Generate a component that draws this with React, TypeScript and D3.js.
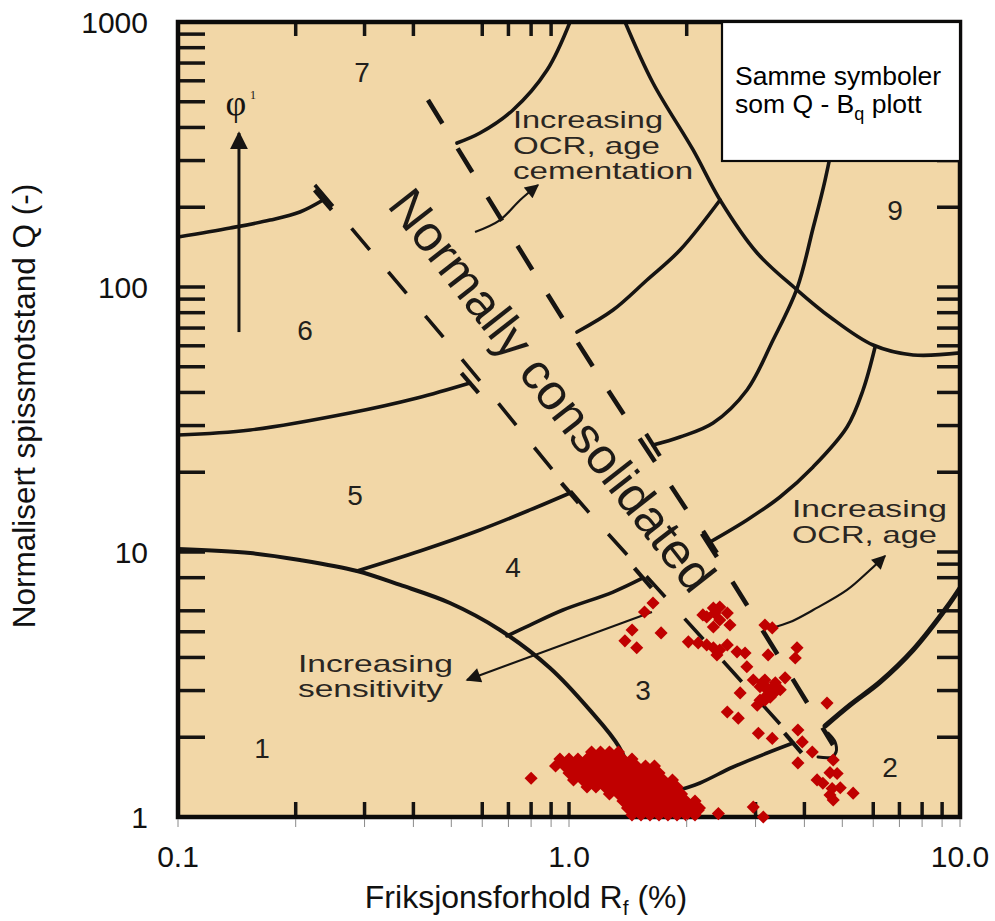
import React from "react";
import * as d3 from "d3";

type Pt = [number, number]; // [Rf (%), Q (-)]

// ---- axes -------------------------------------------------------------
const xTickValues = [0.1, 1, 10];
const xTickLabels = ["0.1", "1.0", "10.0"];
const yTickValues = [1, 10, 100, 1000];
const yTickLabels = ["1", "10", "100", "1000"];
const xOuterTicks = [0.1, 0.2, 0.3, 0.4, 0.5, 0.6, 0.7, 0.8, 0.9, 1, 2, 3, 4, 5, 6, 7, 8, 9, 10];

// tick marks drawn inside the chart frame
const bottomFrameTicks = [0.2, 0.3, 0.4, 0.6, 0.7, 0.8, 0.9, 1, 3, 4, 6, 7, 8, 9];
const topFrameTicks = [0.2, 0.3, 0.4, 0.6, 0.7, 0.8, 0.9, 2, 3, 4, 5, 6, 7, 8, 9];
const leftFrameTicks = [2, 3, 4, 5, 6, 8, 10, 20, 30, 40, 50, 60, 70, 80, 90, 100, 200, 300, 400, 500, 600, 700, 800, 900];
const rightFrameTicks = [2, 3, 4, 5, 6, 8, 9, 10, 20, 30, 40, 50, 60, 70, 80, 90, 100, 200, 300, 400, 500, 600, 700, 800, 900];

// ---- soil behaviour zone boundaries -----------------------------------
const zone1Boundary: Pt[] = [[0.1, 10.26], [0.153, 9.91], [0.205, 9.33], [0.287, 8.48], [0.37, 7.51], [0.496, 6.42], [0.666, 5.08], [0.894, 3.65], [1.131, 2.53], [1.342, 1.84], [1.475, 1.32]];
const b45Left: Pt[] = [[0.287, 8.48], [0.416, 10.09], [0.592, 12.11], [0.795, 14.41], [1.006, 16.7]];
const b45Right: Pt[] = [[1.64, 25.34], [1.923, 27.16], [2.336, 30.68], [2.853, 40.87], [3.326, 63.1], [3.833, 99.1], [4.21, 167.0], [4.518, 253.3], [4.792, 391.3], [5.082, 718.9]];
const b56Left: Pt[] = [[0.1, 27.64], [0.153, 28.86], [0.275, 33.45], [0.409, 38.12], [0.558, 43.42]];
const b56Right: Pt[] = [[1.048, 67.63], [1.296, 81.88], [1.583, 106.3], [1.923, 137.9], [2.434, 213.0]];
const b67Left: Pt[] = [[0.1, 154.4], [0.136, 167.0], [0.172, 178.9], [0.205, 191.9], [0.235, 213.0]];
const b67Right: Pt[] = [[0.517, 349.4], [0.592, 381.1], [0.719, 465.5], [0.879, 658.9], [1.006, 1000]];
const zone9Arc: Pt[] = [[1.391, 1000], [1.64, 588.6], [2.077, 328.9], [2.434, 213.0], [3.028, 134.4], [3.833, 97.4], [4.652, 77.05], [5.993, 60.4], [7.585, 55.4], [10, 56.4]];
const b34Right: Pt[] = [[6.065, 59.37], [5.65, 40.87], [5.142, 29.63], [4.21, 20.94], [3.465, 16.13], [2.853, 13.21], [2.295, 10.91]];
const b34Left: Pt[] = [[0.694, 4.82], [0.795, 5.3], [0.965, 6.04], [1.296, 7.06], [1.546, 7.98]];
const b23Left: Pt[] = [[1.659, 1.159], [1.923, 1.264], [2.163, 1.344], [2.628, 1.544], [3.211, 1.744], [3.742, 1.902]];
const zone2Boundary: Pt[] = [[4.518, 2.205], [5.234, 2.646], [6.245, 3.232], [7.585, 4.268], [9.264, 6.2], [10, 7.31]];
const ncBracket: Pt[] = [[4.596, 2.075], [4.792, 1.919], [4.82, 1.759], [4.707, 1.684], [4.334, 1.684]];

// normally consolidated band
const ncLeft: Pt[] = [[0.2239, 242.6], [0.5921, 44.19], [1.018, 16.7], [1.592, 7.98], [3.833, 1.902]];
const ncRight: Pt[] = [[0.4359, 507.7], [1.111, 54.4], [2.336, 10.09], [4.736, 1.869]];

// trend arrows
const sensitivityArrow: Pt[] = [[1.63, 5.94], [0.5484, 3.29]];
const ocrAgeArrow: Pt[] = [[3.307, 5.17], [3.676, 5.44], [4.21, 6.04], [5.142, 7.19], [5.886, 8.55], [6.43, 9.66]];
const ocrCementArrow: Pt[] = [[0.575, 161.3], [0.666, 178.9], [0.75, 213.0], [0.833, 242.6]];
const phiArrow: Pt[] = [[0.1432, 67.6], [0.1432, 381.1]];

// zone numbers
const zoneLabels = ["1", "2", "3", "4", "5", "6", "7", "9"];
const zoneLabelRf = [0.164, 6.62, 1.546, 0.719, 0.2836, 0.2113, 0.2956, 6.82];
const zoneLabelQ = [1.82, 1.544, 3.02, 8.78, 16.41, 68.8, 647.6, 195.3];

// ---- CPT data -----------------------------------------------------------
const scatteredPoints: Pt[] = [
  [1.64, 6.42], [1.56, 5.94], [1.45, 5.08], [1.39, 4.62], [1.49, 4.35], [1.72, 4.95], [0.8, 1.4],
  [2.2, 5.79], [2.25, 5.69], [2.34, 6.15], [2.43, 6.2], [2.54, 5.88], [2.58, 5.3], [2.34, 5.21], [2.43, 5.54], [2.36, 5.88],
  [2.02, 4.58], [2.14, 4.54], [2.25, 4.46], [2.34, 4.35], [2.43, 4.27], [2.54, 4.46], [2.39, 4.09], [2.69, 4.2], [2.82, 4.16], [2.85, 3.69],
  [3.17, 5.3], [3.31, 5.17], [3.23, 4.09], [3.83, 4.35], [3.79, 3.98],
  [2.96, 3.29], [3.08, 3.1], [3.21, 3.02], [3.27, 2.83], [3.57, 3.35], [3.33, 3.1], [3.17, 2.83], [3.12, 3.21], [3.21, 3.07], [3.37, 2.97],
  [3.08, 2.76], [2.74, 2.94], [3.17, 3.29], [3.37, 3.21], [3.03, 2.64], [3.17, 2.76], [3.47, 3.02],
  [2.54, 2.49], [2.71, 2.36], [3.05, 2.07], [3.31, 1.98], [4.57, 2.69], [3.85, 2.13], [3.95, 1.92], [4.19, 1.76], [3.85, 1.6],
  [4.74, 1.64], [4.65, 1.47], [4.85, 1.46], [4.31, 1.38], [4.46, 1.34], [4.71, 1.28], [4.94, 1.29], [4.65, 1.21], [4.74, 1.16], [5.33, 1.23],
  [2.96, 1.09], [3.14, 1.0], [2.41, 1.03], [2.14, 1.06],
];

const denseCluster: Pt[] = [
  [1.142, 1.759], [1.204, 1.759], [1.269, 1.759], [1.338, 1.759],
  [0.948, 1.656], [1.0, 1.656], [1.054, 1.656], [1.112, 1.656], [1.172, 1.656], [1.236, 1.656], [1.303, 1.656], [1.374, 1.656], [1.449, 1.656],
  [0.924, 1.558], [0.974, 1.558], [1.027, 1.558], [1.083, 1.558], [1.142, 1.558], [1.204, 1.558], [1.269, 1.558], [1.338, 1.558], [1.411, 1.558], [1.488, 1.558], [1.569, 1.558], [1.654, 1.558],
  [1.0, 1.466], [1.054, 1.466], [1.112, 1.466], [1.172, 1.466], [1.236, 1.466], [1.303, 1.466], [1.374, 1.466], [1.449, 1.466], [1.528, 1.466], [1.611, 1.466], [1.699, 1.466],
  [1.027, 1.379], [1.083, 1.379], [1.142, 1.379], [1.204, 1.379], [1.269, 1.379], [1.338, 1.379], [1.411, 1.379], [1.488, 1.379], [1.569, 1.379], [1.654, 1.379], [1.744, 1.379], [1.839, 1.379],
  [1.112, 1.298], [1.172, 1.298], [1.236, 1.298], [1.303, 1.298], [1.374, 1.298], [1.449, 1.298], [1.528, 1.298], [1.611, 1.298], [1.699, 1.298], [1.791, 1.298], [1.889, 1.298],
  [1.269, 1.221], [1.338, 1.221], [1.411, 1.221], [1.488, 1.221], [1.569, 1.221], [1.654, 1.221], [1.744, 1.221], [1.839, 1.221], [1.94, 1.221],
  [1.374, 1.149], [1.449, 1.149], [1.528, 1.149], [1.611, 1.149], [1.699, 1.149], [1.791, 1.149], [1.889, 1.149], [1.992, 1.149], [2.1, 1.149],
  [1.411, 1.081], [1.488, 1.081], [1.569, 1.081], [1.654, 1.081], [1.744, 1.081], [1.839, 1.081], [1.94, 1.081], [2.045, 1.081], [2.156, 1.081],
  [1.449, 1.018], [1.528, 1.018], [1.611, 1.018], [1.699, 1.018], [1.791, 1.018], [1.889, 1.018], [1.992, 1.018], [2.1, 1.018],
];

const INK = "#161412";
const PAPER = "#F2D7A7";
const MARK = "#C00000";
const SANS = "'Liberation Sans', Arial, Helvetica, sans-serif";
const SERIF = "'Liberation Serif', 'DejaVu Serif', serif";

export default function App() {
  const x = d3.scaleLog().domain([0.1, 10]).range([178, 960]);
  const y = d3.scaleLog().domain([1, 1000]).range([817, 22]);
  const [x0, x1] = x.range();
  const [yb, yt] = y.range();

  const smooth = d3.line<Pt>().x((d) => x(d[0])).y((d) => y(d[1])).curve(d3.curveCatmullRom.alpha(0.5));
  const straight = d3.line<Pt>().x((d) => x(d[0])).y((d) => y(d[1]));
  const diamond = d3.symbol().type(d3.symbolSquare).size(86)() as string;

  const angleOf = (pts: Pt[]) => {
    const a = pts[0];
    const b = pts[pts.length - 1];
    return Math.atan2(y(b[1]) - y(a[1]), x(b[0]) - x(a[0]));
  };
  const leftAngle = angleOf(ncLeft);
  const rightAngle = angleOf(ncRight);

  const bar = (p: Pt, ang: number, len = 26) => {
    const cx = x(p[0]);
    const cy = y(p[1]);
    const dx = (Math.cos(ang) * len) / 2;
    const dy = (Math.sin(ang) * len) / 2;
    return { x1: cx - dx, y1: cy - dy, x2: cx + dx, y2: cy + dy };
  };

  const bars = [
    bar(b67Left[b67Left.length - 1], leftAngle),
    bar(b56Left[b56Left.length - 1], leftAngle),
    bar(b45Left[b45Left.length - 1], leftAngle),
    bar(b34Left[b34Left.length - 1], leftAngle),
    bar(b23Left[b23Left.length - 1], leftAngle),
    bar(b45Right[0], rightAngle),
    bar(b34Right[b34Right.length - 1], rightAngle),
  ];

  const boundaries: { pts: Pt[]; w: number }[] = [
    { pts: zone1Boundary, w: 4 },
    { pts: b45Left, w: 3.6 },
    { pts: b45Right, w: 3.6 },
    { pts: b56Left, w: 3.6 },
    { pts: b56Right, w: 3.6 },
    { pts: b67Left, w: 3.6 },
    { pts: b67Right, w: 3.6 },
    { pts: zone9Arc, w: 3.6 },
    { pts: b34Right, w: 3.6 },
    { pts: b34Left, w: 3.6 },
    { pts: b23Left, w: 3.6 },
    { pts: zone2Boundary, w: 5 },
    { pts: ncBracket, w: 3 },
  ];

  const textBlock = (
    rf: number,
    q: number,
    lines: string[],
    lengths: number[],
    gap: number,
    key: string
  ) => (
    <text key={key} x={x(rf)} y={y(q)} fontFamily={SANS} fontSize={24} fill="#2a2622">
      {lines.map((s, i) => (
        <tspan key={i} x={x(rf)} dy={i === 0 ? 0 : gap} textLength={lengths[i]} lengthAdjust="spacingAndGlyphs">
          {s}
        </tspan>
      ))}
    </text>
  );

  const ncX = x(0.8366);
  const ncY = y(37.17);
  const phiX = x(0.1407);
  const phiY = y(453.5);

  return (
    <svg
      width={995}
      height={921}
      viewBox="0 0 995 921"
      style={{ position: "absolute", left: 0, top: 0, background: "#ffffff" }}
    >
      <defs>
        <marker id="head" viewBox="0 0 10 10" refX="9" refY="5" markerUnits="userSpaceOnUse" markerWidth="20" markerHeight="15" orient="auto">
          <path d="M0,0 L10,5 L0,10 z" fill={INK} />
        </marker>
        <marker id="headSmall" viewBox="0 0 10 10" refX="9" refY="5" markerUnits="userSpaceOnUse" markerWidth="17" markerHeight="14" orient="auto">
          <path d="M0,0 L10,5 L0,10 z" fill={INK} />
        </marker>
        <marker id="headWide" viewBox="0 0 10 10" refX="9" refY="5" markerUnits="userSpaceOnUse" markerWidth="18" markerHeight="23" orient="auto">
          <path d="M0,0 L10,5 L0,10 z" fill={INK} />
        </marker>
        <clipPath id="plotClip">
          <rect x={x0} y={yt} width={x1 - x0} height={yb - yt} />
        </clipPath>
      </defs>

      {/* chart paper */}
      <rect x={x0} y={yt} width={x1 - x0} height={yb - yt} fill={PAPER} />

      {/* frame ticks */}
      <g stroke={INK} strokeWidth={3.5}>
        {bottomFrameTicks.map((v) => (
          <line key={"b" + v} x1={x(v)} x2={x(v)} y1={yb} y2={yb - 15} />
        ))}
        {topFrameTicks.map((v) => (
          <line key={"t" + v} x1={x(v)} x2={x(v)} y1={yt} y2={yt + 14} />
        ))}
        {leftFrameTicks.map((v) => (
          <line key={"l" + v} x1={x0} x2={x0 + 27} y1={y(v)} y2={y(v)} />
        ))}
        {rightFrameTicks.map((v) => (
          <line key={"r" + v} x1={x1} x2={x1 - 23} y1={y(v)} y2={y(v)} />
        ))}
      </g>

      <g clipPath="url(#plotClip)">
        {/* zone boundaries */}
        <g fill="none" stroke={INK} strokeLinecap="round" strokeLinejoin="round">
          {boundaries.map((b, i) => (
            <path key={i} d={smooth(b.pts) as string} strokeWidth={b.w} />
          ))}
        </g>

        {/* normally consolidated band */}
        <g fill="none" stroke={INK}>
          <path d={smooth(ncLeft) as string} strokeWidth={3.6} strokeDasharray="28 29" />
          <path d={smooth(ncRight) as string} strokeWidth={4.6} strokeDasharray="28 29" />
          {bars.map((b, i) => (
            <line key={i} {...b} strokeWidth={4.2} />
          ))}
        </g>

        {/* trend arrows */}
        <g fill="none" stroke={INK} strokeWidth={2.2}>
          <path d={straight(sensitivityArrow) as string} markerEnd="url(#head)" />
          <path d={smooth(ocrAgeArrow) as string} markerEnd="url(#headSmall)" />
          <path d={smooth(ocrCementArrow) as string} markerEnd="url(#headSmall)" />
          <path d={straight(phiArrow) as string} strokeWidth={3} markerEnd="url(#headWide)" />
        </g>

        {/* zone numbers */}
        <g fontFamily={SANS} fontSize={28} fill="#221f1c" textAnchor="middle">
          {zoneLabels.map((s, i) => (
            <text key={s} x={x(zoneLabelRf[i])} y={y(zoneLabelQ[i])} dy="0.36em">
              {s}
            </text>
          ))}
        </g>

        {/* annotations */}
        {textBlock(0.7192, 398, ["Increasing", "OCR, age", "cementation"], [150, 147, 180], 25.5, "cem")}
        {textBlock(3.718, 13.56, ["Increasing", "OCR, age"], [155, 145], 26, "age")}
        {textBlock(0.2027, 3.525, ["Increasing", "sensitivity"], [155, 145], 25, "sens")}

        <text
          x={0}
          y={0}
          transform={`translate(${ncX},${ncY}) rotate(52)`}
          textAnchor="middle"
          fontFamily={SANS}
          fontSize={50}
          fill="#1d1a17"
          textLength={495}
          lengthAdjust="spacingAndGlyphs"
        >
          Normally consolidated
        </text>

        <text x={phiX} y={phiY + 2} textAnchor="middle" fontFamily={SERIF} fontSize={36} fill={INK}>
          φ
        </text>
        <text x={phiX + 14} y={phiY - 14} fontFamily={SERIF} fontSize={12} fill={INK}>
          1
        </text>
      </g>

      {/* frame */}
      <rect x={x0} y={yt} width={x1 - x0} height={yb - yt} fill="none" stroke="#0c0b0a" strokeWidth={4.5} />

      {/* legend note */}
      <rect x={722} y={yt} width={x1 - 722} height={139} fill="#ffffff" stroke="#0c0b0a" strokeWidth={2.2} />
      <text x={735} y={85} fontFamily={SANS} fontSize={26.5} fill="#000">
        Samme symboler
      </text>
      <text x={735} y={113} fontFamily={SANS} fontSize={26.5} fill="#000">
        som Q - B<tspan fontSize={18} dy={7}>q</tspan>
        <tspan dy={-7}> plott</tspan>
      </text>

      {/* CPT data */}
      <g fill={MARK}>
        {denseCluster.concat(scatteredPoints).map((d, i) => (
          <path key={i} d={diamond} transform={`translate(${x(d[0])},${y(d[1])}) rotate(45)`} />
        ))}
      </g>

      {/* outer x axis */}
      <g stroke="#8a8a8a" strokeWidth={1}>
        {xOuterTicks.map((v) => (
          <line key={v} x1={x(v)} x2={x(v)} y1={yb + 2} y2={yb + 10} />
        ))}
      </g>
      <g fontFamily={SANS} fontSize={30} fill="#111" textAnchor="middle">
        {xTickValues.map((v, i) => (
          <text key={v} x={x(v)} y={867}>
            {xTickLabels[i]}
          </text>
        ))}
      </g>
      <g fontFamily={SANS} fontSize={30} fill="#111" textAnchor="end">
        {yTickValues.map((v, i) => (
          <text key={v} x={148} y={y(v)} dy="0.35em">
            {yTickLabels[i]}
          </text>
        ))}
      </g>

      {/* axis titles */}
      <text x={526} y={908} textAnchor="middle" fontFamily={SANS} fontSize={32} fill="#111">
        Friksjonsforhold R<tspan fontSize={21} dy={7}>f</tspan>
        <tspan dy={-7}> (%)</tspan>
      </text>
      <text
        transform={`translate(35,406) rotate(-90)`}
        textAnchor="middle"
        fontFamily={SANS}
        fontSize={31.5}
        fill="#111"
      >
        Normalisert spissmotstand Q (-)
      </text>
    </svg>
  );
}
